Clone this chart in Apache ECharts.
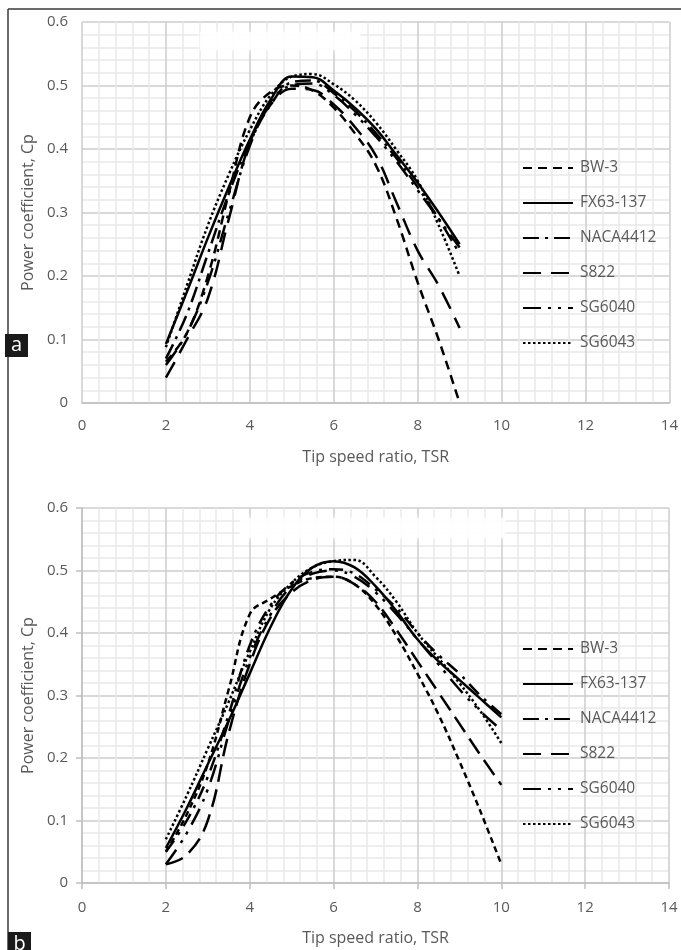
<!DOCTYPE html>
<html><head><meta charset="utf-8">
<script src="https://cdn.jsdelivr.net/npm/echarts@6/dist/echarts.min.js"></script>
<style>html,body{margin:0;padding:0;background:#fff}#c{width:681px;height:950px}</style>
</head><body><div id="c"></div>
<script>
// ---------- data ----------
const seriesNames = ['BW-3', 'FX63-137', 'NACA4412', 'S822', 'SG6040', 'SG6043'];
const xTickValues = [0, 2, 4, 6, 8, 10, 12, 14];
const yTickValues = [0, 0.1, 0.2, 0.3, 0.4, 0.5, 0.6];
const xTitle = 'Tip speed ratio, TSR';
const yTitle = 'Power coefficient, Cp';

// panel (a)
const tsrA = [2, 2.5, 3, 3.5, 4, 4.5, 5, 5.5, 6, 6.5, 7, 7.5, 8, 8.5, 9];
const bw3A = [0.065, 0.11, 0.2, 0.33, 0.45, 0.49, 0.5, 0.492, 0.465, 0.425, 0.375, 0.29, 0.19, 0.1, 0.0];
const fx63A = [0.093, 0.175, 0.26, 0.34, 0.415, 0.478, 0.514, 0.513, 0.492, 0.465, 0.432, 0.39, 0.347, 0.3, 0.25];
const naca4412A = [0.07, 0.14, 0.235, 0.33, 0.41, 0.47, 0.505, 0.508, 0.488, 0.46, 0.425, 0.385, 0.34, 0.29, 0.235];
const s822A = [0.04, 0.1, 0.165, 0.29, 0.41, 0.47, 0.495, 0.493, 0.47, 0.435, 0.39, 0.315, 0.24, 0.185, 0.118];
const sg6040A = [0.06, 0.11, 0.19, 0.3, 0.405, 0.475, 0.5, 0.503, 0.485, 0.455, 0.42, 0.38, 0.335, 0.29, 0.245];
const sg6043A = [0.088, 0.185, 0.28, 0.36, 0.43, 0.485, 0.514, 0.518, 0.502, 0.477, 0.442, 0.398, 0.35, 0.28, 0.2];

// panel (b)
const tsrB = [2, 2.5, 3, 3.5, 4, 4.5, 5, 5.5, 6, 6.5, 7, 7.5, 8, 8.5, 9, 9.5, 10];
const bw3B = [0.05, 0.11, 0.19, 0.31, 0.43, 0.455, 0.475, 0.488, 0.49, 0.478, 0.445, 0.395, 0.335, 0.27, 0.195, 0.115, 0.03];
const fx63B = [0.056, 0.12, 0.19, 0.26, 0.335, 0.41, 0.47, 0.505, 0.515, 0.505, 0.475, 0.435, 0.39, 0.355, 0.325, 0.295, 0.265];
const naca4412B = [0.05, 0.1, 0.17, 0.27, 0.38, 0.445, 0.48, 0.498, 0.502, 0.495, 0.47, 0.44, 0.4, 0.365, 0.335, 0.3, 0.27];
const s822B = [0.03, 0.045, 0.1, 0.24, 0.35, 0.425, 0.465, 0.485, 0.49, 0.478, 0.45, 0.405, 0.355, 0.305, 0.255, 0.205, 0.157];
const sg6040B = [0.03, 0.08, 0.15, 0.26, 0.36, 0.43, 0.475, 0.495, 0.5, 0.49, 0.465, 0.43, 0.39, 0.35, 0.31, 0.275, 0.245];
const sg6043B = [0.07, 0.14, 0.215, 0.29, 0.37, 0.44, 0.48, 0.505, 0.515, 0.517, 0.49, 0.45, 0.4, 0.36, 0.32, 0.275, 0.224];

// ---------- build ----------
const FONT = "'Open Sans', 'Liberation Sans', sans-serif";
const TXT = '#595959';
const dashA = [[9, 6], null, [16, 6, 3, 6], [18, 10], [18, 7, 3, 7, 3, 7], [2.5, 2.5]];
const dashB = [[6, 4], null, [14, 7, 3, 7], [18, 8], [18, 8, 3, 7, 3, 8], [2.5, 2.5]];
const valsA = [bw3A, fx63A, naca4412A, s822A, sg6040A, sg6043A];
const valsB = [bw3B, fx63B, naca4412B, s822B, sg6040B, sg6043B];

function mkSeries(xs, vals, dashes, idx) {
  return vals.map((v, k) => ({
    name: seriesNames[k],
    type: 'line',
    xAxisIndex: idx, yAxisIndex: idx,
    data: xs.map((x, i) => [x, v[i]]),
    smooth: 0.4,
    symbol: 'none',
    showSymbol: false,
    lineStyle: { color: '#000', width: 2.5, type: dashes[k] || 'solid', cap: 'butt' },
    itemStyle: { color: '#000' },
    z: 3
  }));
}

function mkX(idx, ticks, gap, margin) {
  return {
    type: 'value', gridIndex: idx, min: 0, max: 14, interval: 2,
    axisLine: { show: true, lineStyle: { color: '#bfbfbf', width: 1.5 } },
    axisTick: { show: ticks, length: 6, lineStyle: { color: '#bfbfbf', width: 1.5 } },
    axisLabel: { color: TXT, fontSize: 15, fontFamily: FONT, margin: margin },
    splitLine: { show: true, lineStyle: { color: '#cdcdcd', width: 1.5 } },
    minorTick: { show: false, splitNumber: 5 },
    minorSplitLine: { show: true, lineStyle: { color: '#e9e9e9', width: 1.5 } },
    name: xTitle, nameLocation: 'middle', nameGap: gap,
    nameTextStyle: { color: TXT, fontSize: 16, fontFamily: FONT }
  };
}
function mkY(idx, ticks, gap) {
  return {
    type: 'value', gridIndex: idx, min: 0, max: 0.6, interval: 0.1,
    axisLine: { show: ticks, lineStyle: { color: '#bfbfbf', width: 1.5 } },
    axisTick: { show: ticks, length: 6, lineStyle: { color: '#bfbfbf', width: 1.5 } },
    axisLabel: { color: TXT, fontSize: 15, fontFamily: FONT, margin: 14,
      formatter: v => String(Math.round(v * 10) / 10) },
    splitLine: { show: true, lineStyle: { color: '#cdcdcd', width: 1.5 } },
    minorTick: { show: false, splitNumber: 5 },
    minorSplitLine: { show: true, lineStyle: { color: '#e9e9e9', width: 1.5 } },
    name: yTitle, nameLocation: 'middle', nameGap: gap, nameRotate: 90,
    nameTextStyle: { color: TXT, fontSize: 16, fontFamily: FONT }
  };
}
function mkLegend(top) {
  return {
    left: 522, top: top, orient: 'vertical', padding: 0,
    itemWidth: 50, itemHeight: 14, itemGap: 19,
    data: seriesNames,
    itemStyle: { opacity: 0 },
    textStyle: { color: TXT, fontSize: 15.5, fontFamily: FONT, padding: [0, 0, 0, 2] },
    selectedMode: false
  };
}

const chart = echarts.init(document.getElementById('c'), null, { renderer: 'canvas' });
chart.setOption({
  animation: false,
  backgroundColor: '#fff',
  grid: [
    { left: 82, top: 22, width: 590, height: 381 },
    { left: 82, top: 508, width: 587, height: 375 }
  ],
  xAxis: [mkX(0, false, 46, 15), mkX(1, true, 47, 17)],
  yAxis: [mkY(0, false, 41), mkY(1, true, 43)],
  legend: [mkLegend(160), mkLegend(641)],
  series: mkSeries(tsrA, valsA, dashA, 0).concat(mkSeries(tsrB, valsB, dashB, 1)),
  graphic: [
    { type: 'line', shape: { x1: 8, y1: 9, x2: 681, y2: 9 }, style: { stroke: '#3a3a3a', lineWidth: 1.5 }, z: 10 },
    { type: 'line', shape: { x1: 8, y1: 9, x2: 8, y2: 950 }, style: { stroke: '#3a3a3a', lineWidth: 1.5 }, z: 10 },
    { type: 'rect', shape: { x: 5, y: 334, width: 23, height: 23 }, style: { fill: '#1a1a1a' }, z: 11 },
    { type: 'text', x: 16.5, y: 345.5, style: { text: 'a', fill: '#fff', fontSize: 20, fontFamily: FONT, align: 'center', verticalAlign: 'middle' }, z: 12 },
    { type: 'rect', shape: { x: 8, y: 932, width: 23, height: 18 }, style: { fill: '#1a1a1a' }, z: 11 },
    { type: 'text', x: 19.5, y: 944, style: { text: 'b', fill: '#fff', fontSize: 20, fontFamily: FONT, align: 'center', verticalAlign: 'middle' }, z: 12 },
    { type: 'rect', shape: { x: 200, y: 32, width: 160, height: 18 }, style: { fill: 'rgba(255,255,255,0.8)', shadowBlur: 6, shadowColor: 'rgba(255,255,255,0.9)' }, z: 1 },
    { type: 'rect', shape: { x: 240, y: 518, width: 265, height: 20 }, style: { fill: 'rgba(255,255,255,0.8)', shadowBlur: 6, shadowColor: 'rgba(255,255,255,0.9)' }, z: 1 }
  ]
});
</script>
</body></html>
